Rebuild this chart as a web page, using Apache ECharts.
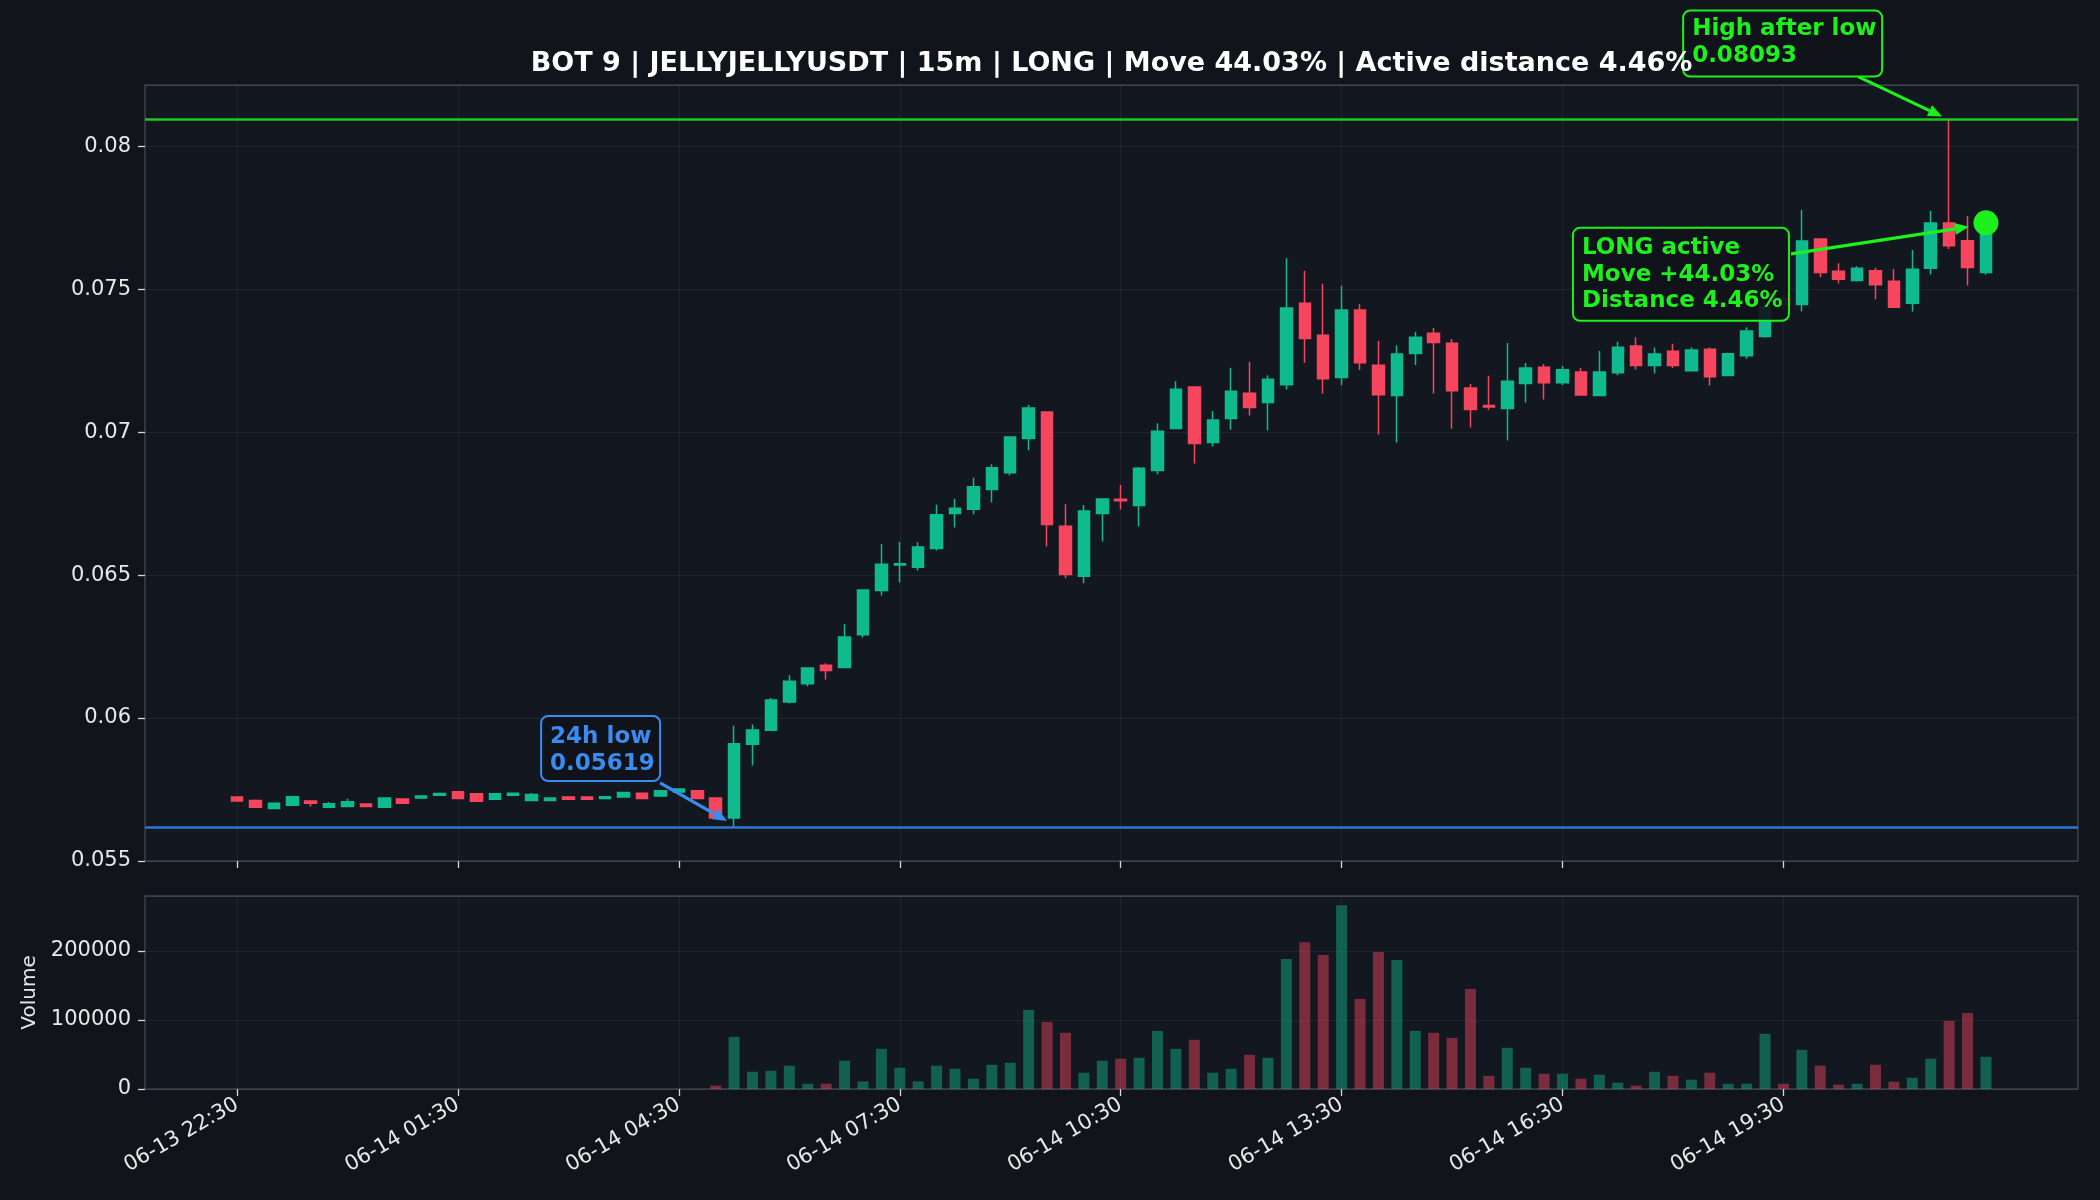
<!DOCTYPE html>
<html>
<head>
<meta charset="utf-8">
<script src="https://cdn.jsdelivr.net/npm/echarts@6/dist/echarts.min.js"></script>
<style>
  html, body { margin: 0; padding: 0; background: #11141b; }
  #chart { width: 2100px; height: 1200px; }
</style>
</head>
<body>
<div id="chart"></div>
<script>
// 15m candles, 06-13 22:30 .. 06-14 22:15
var opens = [
  0.05724, 0.05712, 0.05684, 0.05695, 0.05710, 0.05688, 0.05691, 0.05699, 0.05688, 0.05717,
  0.05720, 0.05730, 0.05742, 0.05735, 0.05716, 0.05730, 0.05712, 0.05712, 0.05724, 0.05724,
  0.05719, 0.05724, 0.05737, 0.05727, 0.05741, 0.05746, 0.05720, 0.05650, 0.05908, 0.05957,
  0.06056, 0.06120, 0.06185, 0.06177, 0.06291, 0.06446, 0.06535, 0.06527, 0.06593, 0.06715,
  0.06730, 0.06799, 0.06858, 0.06978, 0.07070, 0.06671, 0.06496, 0.06715, 0.06765, 0.06743,
  0.06866, 0.07013, 0.07158, 0.06964, 0.07048, 0.07136, 0.07104, 0.07166, 0.07451, 0.07339,
  0.07191, 0.07427, 0.07234, 0.07128, 0.07275, 0.07346, 0.07311, 0.07154, 0.07093, 0.07083,
  0.07170, 0.07227, 0.07173, 0.07210, 0.07128, 0.07208, 0.07301, 0.07233, 0.07283, 0.07215,
  0.07290, 0.07198, 0.07267, 0.07334, 0.07470, 0.07446, 0.07675, 0.07563, 0.07530, 0.07564,
  0.07528, 0.07451, 0.07573, 0.07731, 0.07669, 0.07558
];
var closes = [
  0.05710, 0.05688, 0.05702, 0.05725, 0.05702, 0.05700, 0.05707, 0.05691, 0.05720, 0.05702,
  0.05727, 0.05736, 0.05719, 0.05709, 0.05735, 0.05737, 0.05733, 0.05720, 0.05716, 0.05716,
  0.05725, 0.05740, 0.05719, 0.05746, 0.05752, 0.05719, 0.05650, 0.05910, 0.05958, 0.06063,
  0.06129, 0.06175, 0.06166, 0.06283, 0.06448, 0.06538, 0.06540, 0.06598, 0.06711, 0.06734,
  0.06809, 0.06875, 0.06983, 0.07084, 0.06677, 0.06502, 0.06724, 0.06766, 0.06760, 0.06874,
  0.07003, 0.07150, 0.06960, 0.07042, 0.07143, 0.07086, 0.07185, 0.07434, 0.07327, 0.07187,
  0.07427, 0.07243, 0.07131, 0.07273, 0.07332, 0.07313, 0.07145, 0.07079, 0.07088, 0.07178,
  0.07224, 0.07173, 0.07218, 0.07130, 0.07210, 0.07297, 0.07233, 0.07273, 0.07233, 0.07287,
  0.07194, 0.07274, 0.07354, 0.07439, 0.07445, 0.07668, 0.07558, 0.07535, 0.07573, 0.07515,
  0.07437, 0.07570, 0.07731, 0.07652, 0.07576, 0.07732
];
var lows = [
  0.05710, 0.05688, 0.05684, 0.05695, 0.05691, 0.05688, 0.05691, 0.05691, 0.05688, 0.05702,
  0.05720, 0.05730, 0.05719, 0.05709, 0.05716, 0.05730, 0.05712, 0.05712, 0.05716, 0.05716,
  0.05719, 0.05724, 0.05719, 0.05727, 0.05741, 0.05719, 0.05650, 0.05619, 0.05834, 0.05957,
  0.06051, 0.06111, 0.06135, 0.06175, 0.06282, 0.06429, 0.06474, 0.06516, 0.06586, 0.06666,
  0.06713, 0.06754, 0.06848, 0.06937, 0.06600, 0.06489, 0.06471, 0.06617, 0.06729, 0.06670,
  0.06853, 0.07010, 0.06890, 0.06950, 0.07008, 0.07058, 0.07006, 0.07149, 0.07243, 0.07135,
  0.07164, 0.07217, 0.06992, 0.06964, 0.07235, 0.07135, 0.07012, 0.07016, 0.07078, 0.06971,
  0.07104, 0.07114, 0.07165, 0.07128, 0.07125, 0.07199, 0.07219, 0.07205, 0.07224, 0.07213,
  0.07163, 0.07197, 0.07257, 0.07330, 0.07430, 0.07422, 0.07542, 0.07520, 0.07527, 0.07465,
  0.07435, 0.07422, 0.07551, 0.07640, 0.07513, 0.07550
];
var highs = [
  0.05724, 0.05715, 0.05703, 0.05725, 0.05711, 0.05706, 0.05718, 0.05699, 0.05720, 0.05717,
  0.05727, 0.05736, 0.05742, 0.05735, 0.05735, 0.05737, 0.05738, 0.05720, 0.05724, 0.05724,
  0.05725, 0.05740, 0.05737, 0.05746, 0.05752, 0.05746, 0.05723, 0.05973, 0.05977, 0.06070,
  0.06150, 0.06177, 0.06192, 0.06328, 0.06450, 0.06609, 0.06616, 0.06615, 0.06746, 0.06767,
  0.06840, 0.06888, 0.06985, 0.07095, 0.07072, 0.06748, 0.06745, 0.06768, 0.06815, 0.06878,
  0.07031, 0.07178, 0.07160, 0.07074, 0.07225, 0.07245, 0.07199, 0.07608, 0.07564, 0.07519,
  0.07512, 0.07448, 0.07319, 0.07304, 0.07351, 0.07364, 0.07326, 0.07168, 0.07197, 0.07312,
  0.07242, 0.07238, 0.07231, 0.07224, 0.07284, 0.07316, 0.07332, 0.07296, 0.07309, 0.07297,
  0.07296, 0.07278, 0.07367, 0.07455, 0.07480, 0.07777, 0.07677, 0.07591, 0.07580, 0.07575,
  0.07570, 0.07637, 0.07774, 0.08093, 0.07756, 0.07740
];
var volumes = [
  0, 0, 0, 0, 0, 0, 0, 0, 0, 0,
  0, 0, 0, 0, 0, 0, 0, 0, 0, 0,
  0, 0, 0, 0, 0, 0, 4800, 75500, 25000, 26400,
  33700, 7700, 7700, 40900, 11000, 58200, 30800, 11000, 33700, 29300,
  14900, 35100, 38000, 114400, 97100, 81300, 23600, 40900, 43800, 45200,
  84100, 58200, 71200, 23600, 29300, 49500, 45200, 188000, 212500, 193800,
  265900, 130300, 198100, 186600, 84100, 81300, 74000, 144700, 19200, 59600,
  30800, 22100, 22100, 14900, 20700, 9100, 4800, 25000, 19200, 13500,
  23600, 7700, 7700, 79800, 7700, 56700, 33700, 6300, 7700, 35100,
  10600, 16300, 43800, 98600, 110100, 46600
];
var tickLabels = ['06-13 22:30', '06-14 01:30', '06-14 04:30', '06-14 07:30',
                  '06-14 10:30', '06-14 13:30', '06-14 16:30', '06-14 19:30'];
var priceTicks = [0.055, 0.06, 0.065, 0.07, 0.075, 0.08];
var volumeTicks = [0, 100000, 200000];

var low24h = 0.05619;
var highAfterLow = 0.08093;
var lowIndex = 27;
var highIndex = 93;
var title = 'BOT 9 | JELLYJELLYUSDT | 15m | LONG | Move 44.03% | Active distance 4.46%';

var GREEN = '#0fbb8e', RED = '#f6465d', LIME = '#1ef01e', LIME_LINE = '#1ec81e';
var BLUE = '#3a8cf0', BLUE_LINE = '#2a78d4';
var FONT = 'DejaVu Sans';

// time labels for each candle
function two(n) { return (n < 10 ? '0' : '') + n; }
var times = [];
for (var i = 0; i < opens.length; i++) {
  var m = 22 * 60 + 30 + i * 15;
  var day = 13 + Math.floor(m / 1440);
  m = m % 1440;
  times.push('06-' + day + ' ' + two(Math.floor(m / 60)) + ':' + two(m % 60));
}

// padding on both sides, like the matplotlib margins
var PAD_L = 5, PAD_R = 5;
var cats = [];
for (var k = -PAD_L; k < times.length + PAD_R; k++) {
  cats.push(k >= 0 && k < times.length ? times[k] : 'pad' + k);
}
function showTick(idx) { return tickLabels.indexOf(cats[idx]) >= 0; }

var candleData = cats.map(function (c, j) {
  var i = j - PAD_L;
  if (i < 0 || i >= opens.length) return '-';
  return [opens[i], closes[i], lows[i], highs[i]];
});
var volData = cats.map(function (c, j) {
  var i = j - PAD_L;
  if (i < 0 || i >= opens.length) return '-';
  return {
    value: volumes[i],
    itemStyle: { color: closes[i] >= opens[i] ? GREEN : RED, opacity: 0.45 }
  };
});
var last = opens.length - 1;

var chart = echarts.init(document.getElementById('chart'));

var tickStyle = { show: true, length: 7, lineStyle: { color: '#d6d6d6', width: 1.3 } };
var gridLine = { show: true, lineStyle: { color: 'rgba(255,255,255,0.06)', width: 1 } };
var labelStyle = { color: '#e8e8e8', fontSize: 21, fontFamily: FONT };

var option = {
  animation: false,
  backgroundColor: '#11141b',
  grid: [
    { left: 145, right: 22, top: 85, height: 776, show: true, backgroundColor: '#131720',
      borderColor: '#3b404a', borderWidth: 1.5 },
    { left: 145, right: 22, top: 896, height: 193, show: true, backgroundColor: '#131720',
      borderColor: '#3b404a', borderWidth: 1.5 }
  ],
  xAxis: [
    { type: 'category', gridIndex: 0, data: cats, boundaryGap: false,
      axisLine: { show: false },
      axisTick: Object.assign({ interval: showTick }, tickStyle),
      axisLabel: { show: false },
      splitLine: Object.assign({ interval: showTick }, gridLine) },
    { type: 'category', gridIndex: 1, data: cats, boundaryGap: false,
      axisLine: { show: false },
      axisTick: Object.assign({ interval: showTick }, tickStyle),
      axisLabel: Object.assign({ interval: showTick, rotate: 30, margin: 14 }, labelStyle),
      splitLine: Object.assign({ interval: showTick }, gridLine) }
  ],
  yAxis: [
    { type: 'value', gridIndex: 0, min: 0.055, max: 0.08214, interval: 0.005, scale: true,
      axisLine: { show: false },
      axisTick: tickStyle,
      axisLabel: Object.assign({
        margin: 14, showMaxLabel: false,
        formatter: function (v) {
          var r = Math.round(v * 1000) / 1000;
          return priceTicks.indexOf(r) >= 0 && Math.abs(r - v) < 1e-7 ? String(r) : '';
        }
      }, labelStyle),
      splitLine: gridLine },
    { type: 'value', gridIndex: 1, min: 0, max: 279300, interval: 100000,
      name: 'Volume', nameLocation: 'middle', nameGap: 104,
      nameTextStyle: { color: '#e8e8e8', fontSize: 20, fontFamily: FONT },
      axisLine: { show: false },
      axisTick: tickStyle,
      axisLabel: Object.assign({
        margin: 14, showMaxLabel: false,
        formatter: function (v) { return volumeTicks.indexOf(v) >= 0 ? String(v) : ''; }
      }, labelStyle),
      splitLine: gridLine }
  ],
  series: [
    {
      type: 'candlestick', xAxisIndex: 0, yAxisIndex: 0, data: candleData,
      barWidth: 12,
      itemStyle: { color: GREEN, color0: RED, borderColor: GREEN, borderColor0: RED, borderWidth: 1.5 },
      markLine: {
        silent: true, symbol: ['none', 'none'], label: { show: false }, z: 3, precision: 6,
        data: [
          { yAxis: highAfterLow, lineStyle: { color: LIME_LINE, width: 2.6, type: 'solid', opacity: 1 } },
          { yAxis: low24h, lineStyle: { color: BLUE_LINE, width: 2.6, type: 'solid', opacity: 1 } }
        ]
      }
    },
    {
      type: 'scatter', xAxisIndex: 0, yAxisIndex: 0, z: 5,
      data: [[last + PAD_L, closes[last]]],
      symbolSize: 25, itemStyle: { color: LIME, opacity: 1 }
    },
    {
      type: 'bar', xAxisIndex: 1, yAxisIndex: 1, data: volData, barWidth: 11
    }
  ]
};
chart.setOption(option);

// annotations (boxes + arrows), placed relative to the point they mark
function px(i, v) { return chart.convertToPixel({ gridIndex: 0 }, [i + PAD_L, v]); }

var notes = [
  { lines: ['High after low', '0.08093'], at: [highIndex, highAfterLow], color: LIME,
    box: [-266, -109, 199, 66], baselines: [26, 53], from: [-91, -43], to: [-7, -3] },
  { lines: ['LONG active', 'Move +44.03%', 'Distance 4.46%'], at: [last, closes[last]], color: LIME,
    box: [-413, 5, 216, 93], baselines: [28, 55, 81], from: [-195, 31], to: [-17, 4] },
  { lines: ['24h low', '0.05619'], at: [lowIndex, low24h], color: BLUE,
    box: [-193, -111, 119, 65], baselines: [29, 56], from: [-74, -44], to: [-7, -6] }
];

var graphics = [];
notes.forEach(function (n) {
  var p = px(n.at[0], n.at[1]);
  var bx = p[0] + n.box[0], by = p[1] + n.box[1];
  var sx = p[0] + n.from[0], sy = p[1] + n.from[1];
  var ex = p[0] + n.to[0], ey = p[1] + n.to[1];
  var ang = Math.atan2(ey - sy, ex - sx), L = 14, W = 6;
  var baseX = ex - L * Math.cos(ang), baseY = ey - L * Math.sin(ang);
  graphics.push({
    type: 'line', z: 100,
    shape: { x1: sx, y1: sy, x2: baseX, y2: baseY },
    style: { stroke: n.color, lineWidth: 3.2 }
  });
  graphics.push({
    type: 'polygon', z: 100,
    shape: { points: [[ex, ey],
      [baseX + W * Math.sin(ang), baseY - W * Math.cos(ang)],
      [baseX - W * Math.sin(ang), baseY + W * Math.cos(ang)]] },
    style: { fill: n.color }
  });
  graphics.push({
    type: 'rect', z: 101,
    shape: { x: bx, y: by, width: n.box[2], height: n.box[3], r: 7 },
    style: { fill: 'rgba(17,20,27,0.92)', stroke: n.color, lineWidth: 2 }
  });
  n.lines.forEach(function (t, j) {
    graphics.push({
      type: 'text', z: 102,
      style: { text: t, x: bx + 9, y: by + n.baselines[j] - 8, fill: n.color,
               font: 'bold 23px "' + FONT + '"', textAlign: 'left', textVerticalAlign: 'middle' }
    });
  });
});
graphics.push({
  type: 'text', z: 102,
  style: { text: title, x: 145 + (2078 - 145) / 2, y: 64, fill: '#ffffff',
           font: 'bold 27px "' + FONT + '"', textAlign: 'center', textVerticalAlign: 'middle' }
});
chart.setOption({ graphic: graphics });
</script>
</body>
</html>
